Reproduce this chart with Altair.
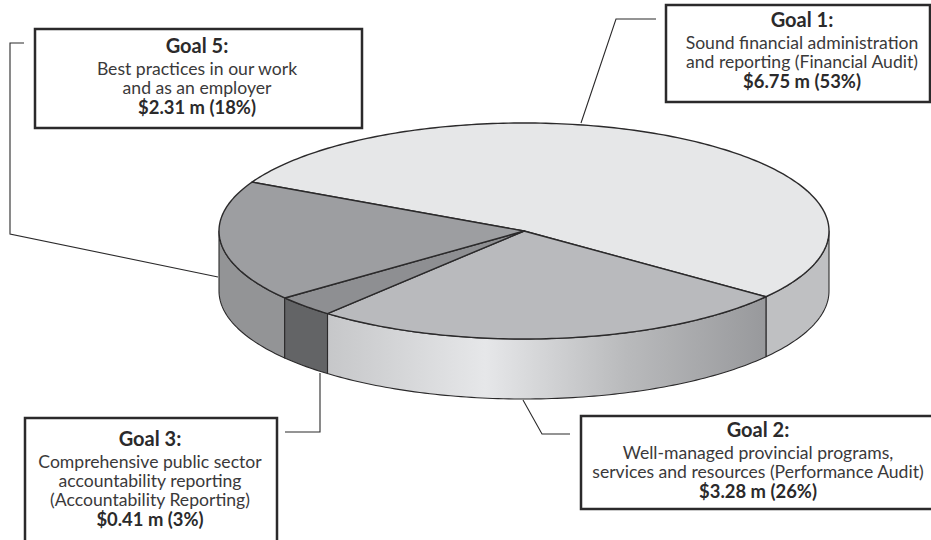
import math
import altair as alt
import pandas as pd

# Budget by goal, in millions of dollars
goals = ["Goal 1", "Goal 2", "Goal 3", "Goal 5"]
amounts = [6.75, 3.28, 0.41, 2.31]

# Callout wording: heading first, amount last, description in between
callout_lines = {
    "Goal 1": ["Goal 1:", "Sound financial administration", "and reporting (Financial Audit)", "$6.75 m (53%)"],
    "Goal 2": ["Goal 2:", "Well-managed provincial programs,", "services and resources (Performance Audit)", "$3.28 m (26%)"],
    "Goal 3": ["Goal 3:", "Comprehensive public sector", "accountability reporting", "(Accountability Reporting)", "$0.41 m (3%)"],
    "Goal 5": ["Goal 5:", "Best practices in our work", "and as an employer", "$2.31 m (18%)"],
}

# Page layout, in pixels
W, H = 931, 540
CX, CY, RX, RY, DEPTH = 524, 231, 305, 108, 60
START_DEG = 37.5  # where the first slice after Goal 1 begins

top_fill = {"Goal 1": "#e6e7e8", "Goal 2": "#b9babd", "Goal 3": "#8e8f92", "Goal 5": "#9d9ea1"}
wall_fill = {
    "Goal 1": "#bfc0c2",
    "Goal 2": alt.Gradient(
        gradient="linear", x1=0, x2=1, y1=0, y2=0,
        stops=[
            alt.GradientStop(color="#c6c7c9", offset=0),
            alt.GradientStop(color="#e6e7e9", offset=0.36),
            alt.GradientStop(color="#b9babc", offset=0.68),
            alt.GradientStop(color="#98999c", offset=1),
        ],
    ),
    "Goal 3": "#636466",
    "Goal 5": "#939496",
}

boxes = {
    "Goal 1": (666, 5, 930, 102),
    "Goal 2": (581, 416, 945, 509),
    "Goal 3": (25, 418, 277, 548),
    "Goal 5": (35, 29, 362, 128),
}
text_center = {"Goal 1": 802, "Goal 2": 758, "Goal 3": 150, "Goal 5": 197}
text_baselines = {
    "Goal 1": [27, 49, 68, 88],
    "Goal 2": [437, 459, 478, 498],
    "Goal 3": [446, 468, 487, 506, 526],
    "Goal 5": [53, 75, 94, 114],
}
leaders = [
    [(581, 123), (616, 19), (656, 19)],
    [(523, 400), (542, 434), (570, 434)],
    [(320, 373), (320, 432), (285, 432)],
    [(218, 277), (10, 234), (10, 43), (24, 43)],
]

x_scale = alt.Scale(domain=[0, W], range=[0, W], nice=False, zero=False)
y_scale = alt.Scale(domain=[0, H], range=[0, H], nice=False, zero=False)
X = alt.X("px:Q", scale=x_scale, axis=None)
Y = alt.Y("py:Q", scale=y_scale, axis=None)


def rim(t_deg, drop=0):
    t = math.radians(t_deg)
    return CX + RX * math.cos(t), CY + RY * math.sin(t) + drop


def arc_steps(a, b):
    n = max(2, int(abs(b - a)) + 1)
    return [a + (b - a) * i / (n - 1) for i in range(n)]


def polygon(mark_points, fill, stroke_width):
    frame = pd.DataFrame(
        [{"px": p[0], "py": p[1], "o": i} for i, p in enumerate(mark_points)]
    )
    return alt.Chart(frame).mark_line(
        interpolate="linear-closed",
        fill=fill,
        stroke="#2b2a2b",
        strokeWidth=stroke_width,
        strokeJoin="round",
    ).encode(x=X, y=Y, order=alt.Order("o:Q"))


def polyline(points, color="#2b2a2b", width=1.1):
    frame = pd.DataFrame([{"px": p[0], "py": p[1], "o": i} for i, p in enumerate(points)])
    return alt.Chart(frame).mark_line(color=color, strokeWidth=width).encode(
        x=X, y=Y, order=alt.Order("o:Q")
    )


# Turn the amounts into angular spans, going round from Goal 2 to Goal 1
total = sum(amounts)
value_of = dict(zip(goals, amounts))
spans = {}
cursor = START_DEG
for g in ["Goal 2", "Goal 3", "Goal 5", "Goal 1"]:
    sweep = value_of[g] / total * 360
    spans[g] = (cursor, cursor + sweep)
    cursor += sweep

layers = []

# Leader lines sit underneath the pie
for pts in leaders:
    layers.append(polyline(pts))

# Outer wall: only the front half of the rim (0 to 180 degrees) is visible
for g in ["Goal 1", "Goal 5", "Goal 2", "Goal 3"]:
    a, b = spans[g]
    pieces = [(a, min(b, 180))] if a < 180 else []
    if b > 360:
        pieces.append((360, min(b, 360 + 180)))
    for lo, hi in pieces:
        if hi <= lo:
            continue
        steps = arc_steps(lo, hi)
        outline = [rim(t) for t in steps] + [rim(t, DEPTH) for t in reversed(steps)]
        layers.append(polygon(outline, wall_fill[g], 1.1))

# Top face of each slice
for g in goals:
    a, b = spans[g]
    outline = [(CX, CY)] + [rim(t) for t in arc_steps(a, b)]
    layers.append(polygon(outline, top_fill[g], 1.4))

# Callout boxes
box_frame = pd.DataFrame(
    [{"px": v[0], "py": v[1], "px2": v[2], "py2": v[3]} for v in boxes.values()]
)
layers.append(
    alt.Chart(box_frame).mark_rect(fill="white", stroke="#2b2a2b", strokeWidth=2.5).encode(
        x=X, y=Y, x2="px2:Q", y2="py2:Q"
    )
)

# Callout text, one layer per line style
rows = []
for g, lines in callout_lines.items():
    for i, line in enumerate(lines):
        kind = "heading" if i == 0 else ("amount" if i == len(lines) - 1 else "body")
        rows.append({"px": text_center[g], "py": text_baselines[g][i], "line": line, "kind": kind})
text_frame = pd.DataFrame(rows)
text_styles = {
    "heading": dict(fontSize=20, fontWeight="bold", color="#2b2a2b"),
    "amount": dict(fontSize=18.4, fontWeight="bold", color="#2b2a2b"),
    "body": dict(fontSize=17.6, color="#3a393a"),
}
for kind, style in text_styles.items():
    layers.append(
        alt.Chart(text_frame[text_frame["kind"] == kind]).mark_text(
            font="Lato", baseline="alphabetic", align="center", **style
        ).encode(x=X, y=Y, text="line:N")
    )

chart = (
    alt.layer(*layers)
    .properties(width=W, height=H, padding=0, background="white")
    .configure_view(stroke=None)
)
chart.autosize = alt.AutoSizeParams(type="none")
chart.save("out.html", embed_options={"renderer": "svg", "actions": False})
